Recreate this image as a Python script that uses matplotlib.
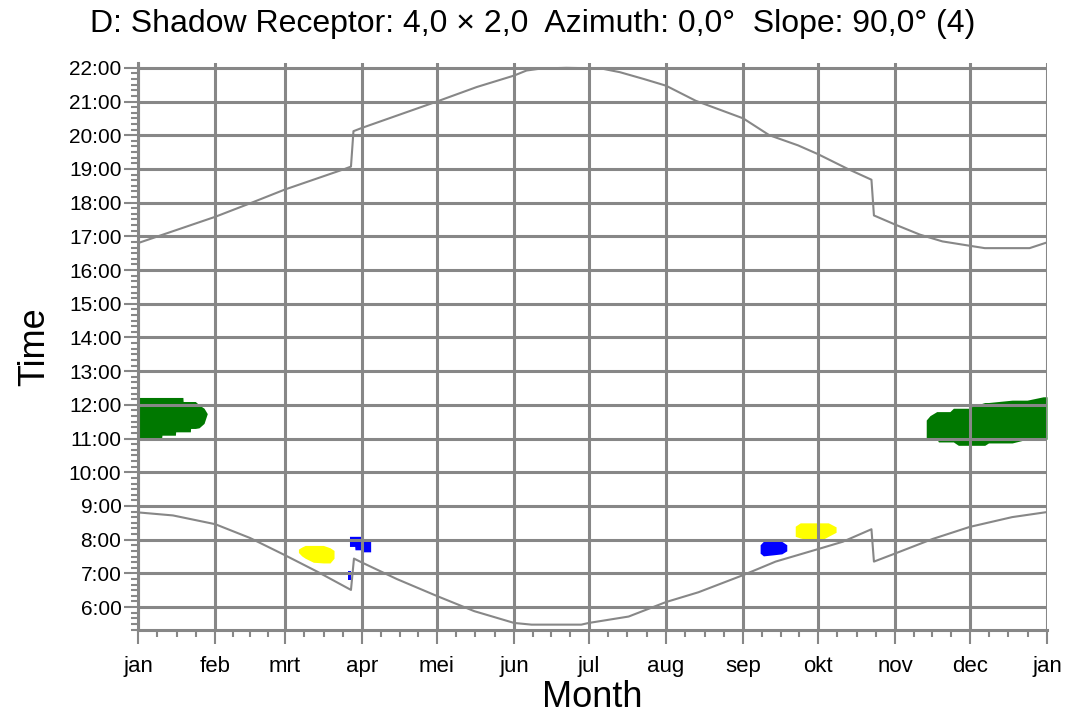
import matplotlib
matplotlib.use("Agg")
import matplotlib.pyplot as plt
from matplotlib.ticker import FixedLocator, MultipleLocator, FuncFormatter
import numpy as np

plt.rcParams['font.family'] = ['Liberation Sans', 'DejaVu Sans']

# month starts (day of year) and their labels
month_days = [0, 31, 59, 90, 120, 151, 181, 212, 243, 273, 304, 334, 365]
month_labels = ['jan', 'feb', 'mrt', 'apr', 'mei', 'jun', 'jul', 'aug',
                'sep', 'okt', 'nov', 'dec', 'jan']

# sunset curve (hours)
sunset_day = [0, 31, 45, 59, 83, 85.5, 86.5, 90, 120, 136, 151, 156, 162, 172,
              186, 193.5, 203, 212, 224, 243, 253.5, 265, 273, 285, 294.5,
              295.5, 304, 314, 323, 334, 340, 358, 365]
sunset_hr = [16.8, 17.58, 17.98, 18.39, 19.0, 19.07, 20.12, 20.22, 21.0, 21.43,
             21.77, 21.92, 21.98, 22.0, 21.98, 21.87, 21.67, 21.47, 21.02, 20.5,
             20.0, 19.7, 19.44, 19.0, 18.68, 17.62, 17.35, 17.05, 16.85, 16.72,
             16.65, 16.65, 16.82]

# sunrise curve (hours)
sunrise_day = [0, 14, 31, 45, 59, 72, 85.5, 86.7, 90, 104, 120, 135, 151, 158,
               178, 181, 197, 212, 225, 243, 256, 273, 283, 294.5, 295.5, 304,
               319, 334, 351, 365]
sunrise_hr = [8.81, 8.72, 8.46, 8.05, 7.54, 7.05, 6.51, 7.44, 7.32, 6.83, 6.33,
              5.88, 5.53, 5.48, 5.48, 5.53, 5.72, 6.15, 6.44, 6.95, 7.35, 7.72,
              7.94, 8.31, 7.35, 7.59, 8.02, 8.38, 8.67, 8.82]

# shadow areas: day, start hour, end hour
green1_day = [0, 1, 9.5, 9.6, 15, 15.1, 18, 18.1, 21, 21.1, 23, 24.5, 26.5, 27.8]
green1_top = [12.22, 12.22, 12.22, 12.22, 12.22, 12.22, 12.22, 12.1, 12.1, 12.1,
              12.1, 12.0, 11.9, 11.74]
green1_bot = [10.96, 11.03, 11.03, 11.1, 11.1, 11.2, 11.2, 11.2, 11.2, 11.3,
              11.3, 11.32, 11.45, 11.74]

green2_day = [316.5, 318, 320.7, 321.4, 326, 327.4, 329.4, 334.1, 334.8, 340,
              341.5, 351, 357, 363.5, 365]
green2_top = [11.55, 11.68, 11.8, 11.8, 11.8, 11.9, 11.9, 11.9, 11.95, 12.07,
              12.07, 12.14, 12.14, 12.24, 12.24]
green2_bot = [11.0, 11.0, 11.0, 10.9, 10.9, 10.9, 10.8, 10.8, 10.8, 10.8,
              10.87, 10.87, 10.98, 10.98, 10.98]

yellow1_day = [64.4, 65.7, 67.1, 70.4, 74.4, 77.1, 78.7]
yellow1_top = [7.72, 7.78, 7.83, 7.83, 7.83, 7.76, 7.68]
yellow1_bot = [7.62, 7.52, 7.45, 7.33, 7.31, 7.31, 7.45]

yellow2_day = [263.9, 265.9, 270.5, 274, 277.2, 280.3]
yellow2_top = [8.4, 8.5, 8.5, 8.5, 8.5, 8.38]
yellow2_bot = [8.1, 8.05, 7.97, 7.97, 8.1, 8.22]

blue1_day = [84.9, 87, 87.1, 89.8, 90.5, 93.4]
blue1_top = [8.1, 8.1, 8.1, 8.1, 7.95, 7.95]
blue1_bot = [7.8, 7.8, 7.7, 7.7, 7.64, 7.64]

blue2_day = [84.5, 85.4]
blue2_top = [7.08, 7.08]
blue2_bot = [6.81, 6.81]

blue3_day = [249.8, 251.1, 255, 258.5, 260.5]
blue3_top = [7.85, 7.95, 7.95, 7.95, 7.85]
blue3_bot = [7.6, 7.52, 7.55, 7.58, 7.67]

grey = '#878787'
green = '#007800'

fig = plt.figure(figsize=(10.71, 7.17), dpi=100)
ax = fig.add_axes([0.1289, 0.1213, 0.8487, 0.7907])

for d, t, b in [(green1_day, green1_top, green1_bot),
                (green2_day, green2_top, green2_bot)]:
    ax.fill_between(d, b, t, color=green, linewidth=0, zorder=1)
for d, t, b in [(yellow1_day, yellow1_top, yellow1_bot),
                (yellow2_day, yellow2_top, yellow2_bot)]:
    ax.fill_between(d, b, t, color='#ffff00', linewidth=0, zorder=1)
for d, t, b in [(blue1_day, blue1_top, blue1_bot),
                (blue2_day, blue2_top, blue2_bot),
                (blue3_day, blue3_top, blue3_bot)]:
    ax.fill_between(d, b, t, color='#0000ff', linewidth=0, zorder=1)

ax.plot(sunset_day, sunset_hr, color=grey, lw=1.5, zorder=2)
ax.plot(sunrise_day, sunrise_hr, color=grey, lw=1.5, zorder=2)

ax.set_xlim(0, 365)
ax.set_ylim(5.32, 22.14)

# ticks
ax.xaxis.set_major_locator(FixedLocator(month_days))
ax.set_xticklabels(month_labels)
quarters = []
for a, b in zip(month_days[:-1], month_days[1:]):
    quarters += [a + (b - a) * k / 4 for k in (1, 2, 3)]
ax.xaxis.set_minor_locator(FixedLocator(quarters))

ax.yaxis.set_major_locator(FixedLocator(list(range(6, 23))))
ax.yaxis.set_major_formatter(FuncFormatter(lambda v, p: '%d:00' % int(round(v))))
ax.yaxis.set_minor_locator(MultipleLocator(1 / 6))

ax.tick_params(which='major', length=10, width=1.5, color=grey,
               labelsize=15, pad=2)
ax.tick_params(which='minor', length=5, width=1.5, color=grey)
ax.tick_params(axis='x', which='major', pad=9, labelsize=16)

ax.grid(True, which='major', color=grey, lw=2.2)
ax.set_axisbelow(False)

for s in ['top', 'right']:
    ax.spines[s].set_visible(False)
for s in ['left', 'bottom']:
    ax.spines[s].set_color(grey)
    ax.spines[s].set_linewidth(2.2)

ax.set_xlabel('Month', fontsize=26, labelpad=2)
ax.set_ylabel('Time', fontsize=26, labelpad=12)

fig.text(0.497, 0.967, 'D: Shadow Receptor: 4,0 \u00d7 2,0  Azimuth: 0,0\u00b0  Slope: 90,0\u00b0 (4)',
         fontsize=23, ha='center', va='center')

fig.savefig('out.png', dpi=100, facecolor='white')
